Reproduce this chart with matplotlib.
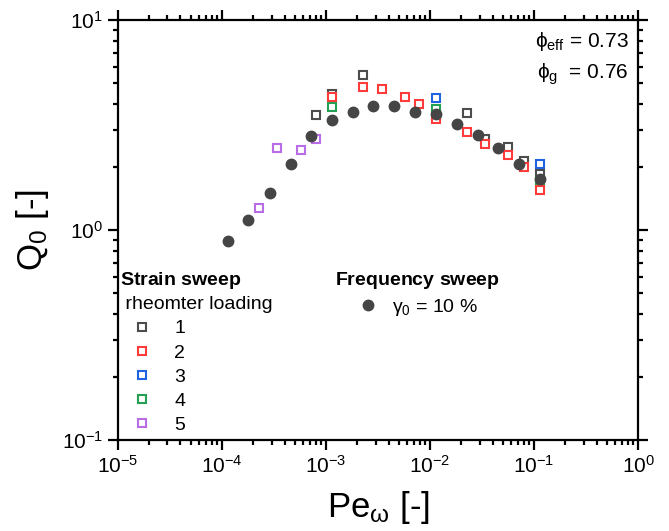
import matplotlib
matplotlib.use('Agg')
import matplotlib.pyplot as plt

plt.rcParams['font.family'] = ['Liberation Sans', 'DejaVu Sans']
plt.rcParams['mathtext.fontset'] = 'custom'
plt.rcParams['mathtext.rm'] = 'Liberation Sans'
plt.rcParams['mathtext.it'] = 'Liberation Sans'
plt.rcParams['mathtext.bf'] = 'Liberation Sans:bold'

# frequency sweep, gamma0 = 10 %
freq_pe = [1.14e-4, 1.80e-4, 2.88e-4, 4.57e-4, 7.20e-4, 1.14e-3, 1.81e-3, 2.84e-3,
           4.52e-3, 7.16e-3, 1.14e-2, 1.80e-2, 2.86e-2, 4.50e-2, 7.13e-2, 1.13e-1]
freq_q0 = [0.89, 1.12, 1.50, 2.07, 2.81, 3.34, 3.67, 3.90,
           3.90, 3.67, 3.57, 3.19, 2.85, 2.46, 2.07, 1.75]

# strain sweeps, rheometer loading 1..5
load1_pe = [7.98e-4, 1.14e-3, 2.28e-3, 2.25e-2, 3.40e-2, 5.62e-2, 7.98e-2, 1.13e-1]
load1_q0 = [3.52, 4.44, 5.49, 3.62, 2.73, 2.50, 2.14, 1.85]
load2_pe = [1.14e-3, 2.28e-3, 3.42e-3, 5.69e-3, 7.87e-3, 1.14e-2, 2.25e-2, 3.40e-2,
            5.62e-2, 7.98e-2, 1.13e-1]
load2_q0 = [4.31, 4.79, 4.69, 4.31, 3.98, 3.40, 2.92, 2.58, 2.27, 1.99, 1.56]
load3_pe = [1.14e-2, 1.13e-1]
load3_q0 = [4.27, 2.06]
load4_pe = [1.14e-3, 1.14e-2, 1.13e-1]
load4_q0 = [3.87, 3.76, 1.72]
load5_pe = [2.29e-4, 3.40e-4, 5.70e-4, 7.98e-4]
load5_q0 = [1.27, 2.46, 2.41, 2.72]

loads = [(load1_pe, load1_q0, '#4d4d4d', '1'),
         (load3_pe, load3_q0, '#1f63e0', '3'),
         (load4_pe, load4_q0, '#24a052', '4'),
         (load2_pe, load2_q0, '#ff3b3b', '2'),
         (load5_pe, load5_q0, '#b86de6', '5')]

fig = plt.figure(figsize=(6.69, 5.31), dpi=100)
ax = fig.add_axes([0.176, 0.171, 0.778, 0.791])

handles = {}
for pe, q0, color, name in loads:
    h, = ax.plot(pe, q0, ls='none', marker='s', ms=6, mfc='white', mec=color,
                 mew=1.5, label=name)
    handles[name] = h
hf, = ax.plot(freq_pe, freq_q0, ls='none', marker='o', ms=7.5, color='#454545',
              label=r'$\gamma_0$ = 10 %')

ax.set_xscale('log')
ax.set_yscale('log')
ax.set_xlim(1e-5, 1)
ax.set_ylim(0.1, 10)
ax.set_xlabel(r'Pe$_{\omega}$ [-]', fontsize=25, labelpad=9)
ax.set_ylabel(r'Q$_0$ [-]', fontsize=25, labelpad=8)

for sp in ax.spines.values():
    sp.set_linewidth(1.6)
ax.tick_params(which='both', direction='out', top=True, right=True,
               width=1.6, labelsize=15)
ax.tick_params(which='major', length=7)
ax.tick_params(which='minor', length=3.5)

ax.text(0.982, 0.95, r'$\phi_{\mathrm{eff}}$ = 0.73', transform=ax.transAxes,
        ha='right', va='center', fontsize=15)
ax.text(0.982, 0.872, r'$\phi_{\mathrm{g}}$  = 0.76', transform=ax.transAxes,
        ha='right', va='center', fontsize=15)

leg1 = ax.legend([handles[k] for k in ['1', '2', '3', '4', '5']],
                 ['1', '2', '3', '4', '5'],
                 title='$\\bf{Strain\\ sweep}$\n rheomter loading',
                 loc='upper left', bbox_to_anchor=(0.0, 0.41), frameon=False,
                 fontsize=14, title_fontsize=14, alignment='left',
                 handlelength=2.3, handletextpad=0.5, labelspacing=0.34,
                 borderpad=0.1, borderaxespad=0)
leg1.get_title().set_linespacing(1.4)
ax.add_artist(leg1)
ax.legend([hf], [r'$\gamma_0$ = 10 %'], title=r'$\bf{Frequency\ sweep}$',
          loc='upper left', bbox_to_anchor=(0.413, 0.41), frameon=False,
          fontsize=14, title_fontsize=14, handlelength=1.2, handletextpad=0.6,
          labelspacing=0.3, borderpad=0.1, borderaxespad=0)

fig.savefig('out.png', dpi=100)
